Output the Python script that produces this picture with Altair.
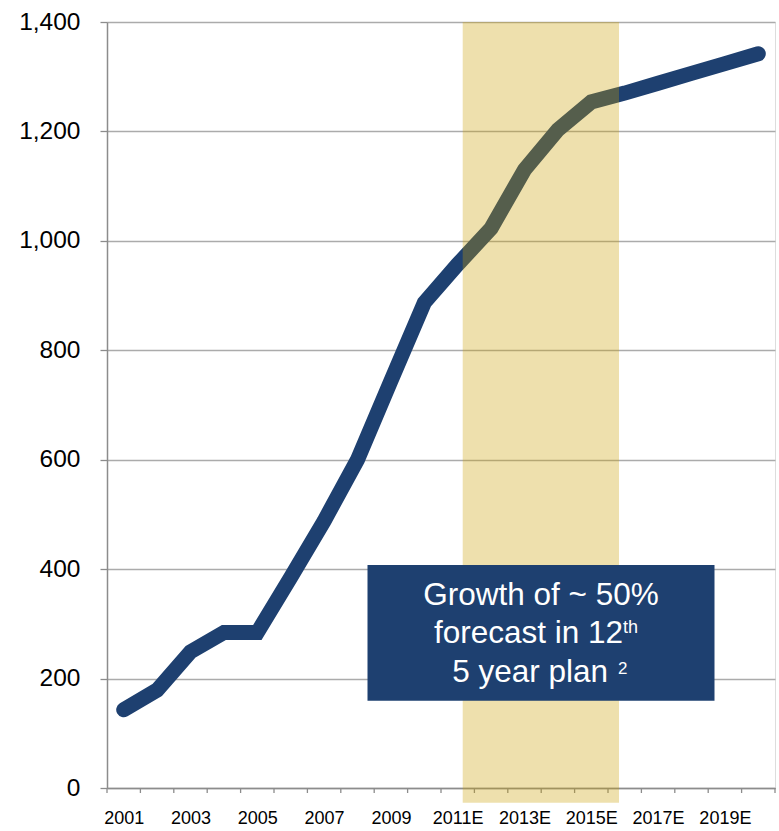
import json
import altair as alt
import pandas as pd

# ---- data ----
categories = ['2001', '2002', '2003', '2004', '2005', '2006', '2007', '2008', '2009', '2010',
              '2011E', '2012E', '2013E', '2014E', '2015E', '2016E', '2017E', '2018E', '2019E', '2020E']
values = [143, 179, 249, 284, 284, 385, 488, 600, 744, 887,
          957, 1023, 1130, 1203, 1254, 1270, 1288, 1306, 1324, 1342]
y_ticks = [0, 200, 400, 600, 800, 1000, 1200, 1400]
# highlighted plan period (in category-index units) and its vertical extent
band_x = [10.15, 14.83]
band_y = [-27, 1400]
annot_line1 = ['Growth of ~ 50%']
annot_line2 = ['forecast in 12']
annot_sup2 = ['th']
annot_line3 = ['5 year plan']
annot_sup3 = ['2']

# ---- styling ----
NAVY = '#1E4070'
GOLD = '#CA9E00'
FONT = 'Liberation Sans'
W, H = 668, 766

n = len(categories)
df = pd.DataFrame({'idx': list(range(n)), 'cat': categories, 'value': values})
ticks_df = pd.DataFrame({'b': [i - 0.5 for i in range(n + 1)]})
band_df = pd.DataFrame({'x1': [band_x[0]], 'x2': [band_x[1]], 'y1': [band_y[0]], 'y2': [band_y[1]]})

xscale = alt.Scale(domain=[-0.5, n - 0.5], nice=False, zero=False)
yscale = alt.Scale(domain=[0, 1400], nice=False, zero=False)

label_expr = json.dumps(categories) + '[datum.value]'

x_axis = alt.Axis(values=list(range(0, n, 2)), labelExpr=label_expr, ticks=False, tickSize=0,
                  grid=False, domain=True, domainColor='#8C8C8C', domainWidth=1.5,
                  labelFontSize=18, labelColor='#000000', labelPadding=21, labelFont=FONT,
                  title=None)
y_axis = alt.Axis(values=y_ticks, format=',.0f', tickSize=7, tickColor='#8C8C8C', tickWidth=1.3,
                  grid=True, gridColor='#ABABAB', gridWidth=1.3,
                  domain=True, domainColor='#8C8C8C', domainWidth=1.5,
                  labelFontSize=24.5, labelColor='#000000', labelPadding=20, labelFont=FONT,
                  title=None)

line = alt.Chart(df).mark_line(color=NAVY, strokeWidth=15, strokeCap='round', strokeJoin='miter').encode(
    x=alt.X('idx:Q', scale=xscale, axis=x_axis),
    y=alt.Y('value:Q', scale=yscale, axis=y_axis),
)

tick_rules = alt.Chart(ticks_df).mark_rule(color='#8C8C8C', strokeWidth=1.3).encode(
    x=alt.X('b:Q', scale=xscale, title=None),
    y=alt.value(H),
    y2=alt.value(H + 5),
)

band = alt.Chart(band_df).mark_rect(color=GOLD, opacity=0.32).encode(
    x=alt.X('x1:Q', scale=xscale, title=None),
    x2='x2',
    y=alt.Y('y1:Q', scale=yscale, title=None),
    y2='y2',
)

box = alt.Chart(pd.DataFrame({'t': annot_line1})).mark_rect(color=NAVY).encode(
    x=alt.value(260.5), x2=alt.value(607.5), y=alt.value(543), y2=alt.value(678.7)
)

def txt(lines, x, y, size, align):
    return alt.Chart(pd.DataFrame({'t': lines})).mark_text(
        color='white', font=FONT, fontSize=size, align=align, baseline='alphabetic'
    ).encode(x=alt.value(x), y=alt.value(y), text='t:N')

t1 = txt(annot_line1, 434, 583, 31.5, 'center')
t2 = txt(annot_line2, 516, 620.7, 31.5, 'right')
t2s = txt(annot_sup2, 516, 611.3, 18, 'left')
t3 = txt(annot_line3, 501, 659.7, 31.5, 'right')
t3s = txt(annot_sup3, 511, 651.8, 17, 'left')

chart = alt.layer(tick_rules, line, band, box, t1, t2, t2s, t3, t3s).properties(
    width=W, height=H,
    autosize=alt.AutoSizeParams(type='none'),
    padding={'left': 107, 'top': 22, 'right': 4, 'bottom': 43},
).configure_view(stroke=None).configure(background='white')

chart.save('out.html', embed_options={'renderer': 'svg', 'actions': False})
